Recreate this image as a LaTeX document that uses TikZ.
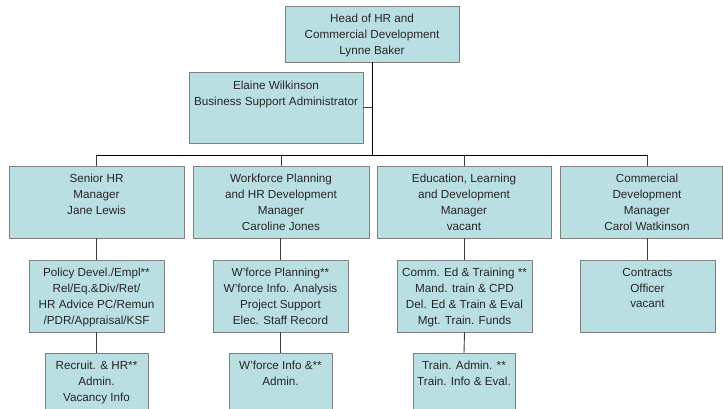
\documentclass[tikz,border=0pt]{standalone}
\usepackage{fontspec}
\setmainfont{Liberation Sans}
\definecolor{boxfill}{RGB}{186,223,227}
\definecolor{boxline}{RGB}{128,128,128}
\definecolor{conn}{RGB}{60,60,60}
\begin{document}
\begin{tikzpicture}[x=1pt,y=-1pt,
  box/.style={draw=boxline, fill=boxfill, line width=0.9pt, inner sep=0pt, outer sep=0pt, anchor=north west},
  lbl/.style={anchor=north, inner sep=0pt, align=center, font=\fontsize{11.7}{15.8}\selectfont, text=black!85},
  mainline/.style={draw=black, line width=0.9pt},
  subline/.style={draw=conn, line width=0.9pt}]
\useasboundingbox (0,0) rectangle (723,409);
% boxes
\node[box, minimum width=174pt, minimum height=56pt] (head) at (285,6) {};
\node[box, minimum width=174pt, minimum height=71pt] (elaine) at (189,72) {};
\node[box, minimum width=175pt, minimum height=72pt] (senior) at (9,166) {};
\node[box, minimum width=176pt, minimum height=72pt] (wfp) at (193,166) {};
\node[box, minimum width=174pt, minimum height=72pt] (edu) at (377,166) {};
\node[box, minimum width=162pt, minimum height=72pt] (comm) at (560,166) {};
\node[box, minimum width=135pt, minimum height=72pt] (policy) at (29,260) {};
\node[box, minimum width=135pt, minimum height=72pt] (wplan) at (213,260) {};
\node[box, minimum width=135pt, minimum height=72pt] (commed) at (397,260) {};
\node[box, minimum width=135pt, minimum height=72pt] (contracts) at (580,260) {};
\node[box, minimum width=103pt, minimum height=72pt] (recruit) at (45,353) {};
\node[box, minimum width=103pt, minimum height=72pt] (winfo) at (229,353) {};
\node[box, minimum width=102pt, minimum height=72pt] (trainadm) at (413,353) {};
% labels
\node[lbl] (headt) at ([yshift=-8pt]head.north) {Head of HR and\\Commercial Development\\Lynne Baker};
\node[lbl] (elainet) at ([yshift=-9pt]elaine.north) {Elaine Wilkinson\\Business Support Administrator};
\node[lbl] (seniort) at ([yshift=-8pt]senior.north) {Senior HR\\Manager\\Jane Lewis};
\node[lbl] (wfpt) at ([yshift=-8pt]wfp.north) {Workforce Planning\\and HR Development\\Manager\\Caroline Jones};
\node[lbl] (edut) at ([yshift=-8pt]edu.north) {Education, Learning\\and Development\\Manager\\vacant};
\node[lbl] (commt) at ([xshift=6pt,yshift=-8pt]comm.north) {Commercial\\Development\\Manager\\Carol Watkinson};
\node[lbl] (policyt) at ([yshift=-8pt]policy.north) {Policy Devel./Empl**\\Rel/Eq.\&Div/Ret/\\HR Advice PC/Remun\\/PDR/Appraisal/KSF};
\node[lbl] (wplant) at ([yshift=-8pt]wplan.north) {W'force Planning**\\W'force Info. Analysis\\Project Support\\Elec. Staff Record};
\node[lbl] (commedt) at ([yshift=-8pt]commed.north) {Comm. Ed \& Training **\\Mand. train \& CPD\\Del. Ed \& Train \& Eval\\Mgt. Train. Funds};
\node[lbl] (contractst) at ([yshift=-8pt]contracts.north) {Contracts\\Officer\\vacant};
\node[lbl] (recruitt) at ([yshift=-8pt]recruit.north) {Recruit. \& HR**\\Admin.\\Vacancy Info};
\node[lbl] (winfot) at ([yshift=-8pt]winfo.north) {W'force Info \&**\\Admin.};
\node[lbl] (trainadmt) at ([yshift=-8pt]trainadm.north) {Train. Admin. **\\Train. Info \& Eval.};
% connectors
\coordinate (hub) at (head.south |- 0,155);
\coordinate (elj) at (head.south |- elaine.east);
\coordinate (busl) at (senior.north |- hub);
\coordinate (busr) at (contracts.north |- hub);
\draw[mainline] (head.south) -- (hub);
\draw[subline] (elaine.east) -- (elj);
\draw[mainline] (busl) -- (busr);
\draw[subline] (busl) -- (senior.north);
\draw[subline] (wfp.north |- hub) -- (wfp.north);
\draw[subline] (edu.north |- hub) -- (edu.north);
\draw[subline] (busr) -- (contracts.north |- comm.north);
\draw[subline] (policy.north |- senior.south) -- (policy.north);
\draw[subline] (wplan.north |- wfp.south) -- (wplan.north);
\draw[subline] (commed.north |- edu.south) -- (commed.north);
\draw[subline] (contracts.north |- comm.south) -- (contracts.north);
\draw[subline] (policy.south) -- (recruit.north);
\draw[subline] (wplan.south) -- (winfo.north);
\draw[subline] (commed.south) -- (trainadm.north);
\end{tikzpicture}
\end{document}
